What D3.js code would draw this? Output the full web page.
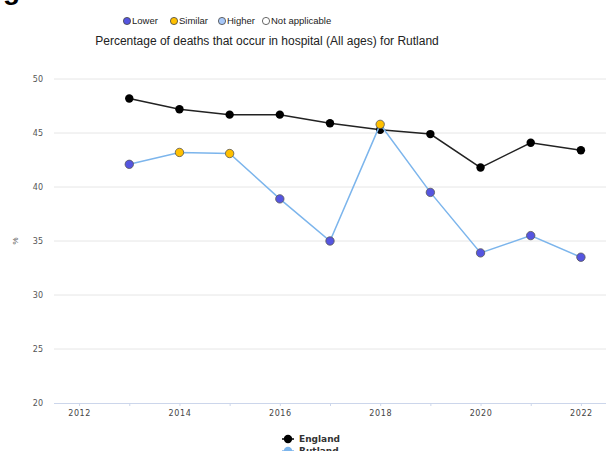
<!DOCTYPE html>
<html>
<head>
<meta charset="utf-8">
<script src="https://cdn.jsdelivr.net/npm/d3@7"></script>
<style>
  body { margin: 0; background: #fff; }
  svg { display: block; font-family: "Liberation Sans", Arial, sans-serif; }
</style>
</head>
<body>
<svg id="chart" width="612" height="451"></svg>
<script>
// data
var years = [2013, 2014, 2015, 2016, 2017, 2018, 2019, 2020, 2021, 2022];
var england = [48.2, 47.2, 46.7, 46.7, 45.9, 45.3, 44.9, 41.8, 44.1, 43.4];
var rutland = [42.1, 43.2, 43.1, 38.9, 35.0, 45.8, 39.5, 33.9, 35.5, 33.5];
var rutlandCompare = ["Lower", "Similar", "Similar", "Lower", "Lower", "Similar", "Lower", "Lower", "Lower", "Lower"];
var yTicks = [20, 25, 30, 35, 40, 45, 50];
var xTicks = [2012, 2014, 2016, 2018, 2020, 2022];
var compareKeys = ["Lower", "Similar", "Higher", "Not applicable"];
var compareColours = ["#5555e0", "#ffc000", "#a8c8f8", "#ffffff"];

var svg = d3.select("#chart");
var margin = {top: 79, right: 6, bottom: 48, left: 54};
var width = 612 - margin.left - margin.right,
    height = 451 - margin.top - margin.bottom;

var x = d3.scaleLinear().domain([2011.5, 2022.5]).range([0, width]);
var y = d3.scaleLinear().domain([20, 50]).range([height, 0]);
var z = d3.scaleOrdinal().domain(compareKeys).range(compareColours);

// cut-off heading above the chart
svg.append("text")
    .attr("x", 3).attr("y", -1)
    .style("font", "bold 28px 'Liberation Sans', Arial, sans-serif")
    .text("g");

// comparison legend at the top
var topLegend = svg.append("g").attr("transform", "translate(127,21)");
var lx = [0, 47, 95, 139];
compareKeys.forEach(function(k, i) {
  topLegend.append("circle")
      .attr("cx", lx[i]).attr("cy", 0).attr("r", 3.6)
      .style("fill", z(k)).style("stroke", "#444").style("stroke-width", 0.8);
  topLegend.append("text")
      .attr("x", lx[i] + 5).attr("y", 3.2)
      .style("font-size", "9.5px").style("fill", "#222")
      .text(k);
});

// title
svg.append("text")
    .attr("x", 267).attr("y", 45)
    .attr("text-anchor", "middle")
    .style("font-size", "12px").style("fill", "#222")
    .text("Percentage of deaths that occur in hospital (All ages) for Rutland");

var g = svg.append("g")
    .attr("transform", "translate(" + margin.left + "," + margin.top + ")");

// gridlines
g.selectAll(".grid")
  .data(yTicks.slice(1))
  .enter().append("line")
    .attr("x1", 0).attr("x2", width)
    .attr("y1", function(d) { return y(d); })
    .attr("y2", function(d) { return y(d); })
    .style("stroke", "#e6e6e6").style("stroke-width", 1);

// y axis labels
var yAxis = g.append("g")
    .call(d3.axisLeft(y).tickValues(yTicks).tickSize(0).tickPadding(11));
yAxis.select(".domain").remove();
yAxis.selectAll("text").style("font-size", "8px").style("fill", "#555")
    .style("font-family", "'DejaVu Sans', sans-serif");

g.append("text")
    .attr("transform", "translate(-36," + (height / 2) + ") rotate(-90)")
    .attr("text-anchor", "middle")
    .style("font-size", "8px").style("fill", "#555")
    .text("%");

// x axis
var xAxis = g.append("g")
    .attr("transform", "translate(0," + height + ")")
    .call(d3.axisBottom(x).tickValues(d3.range(2012, 2023)).tickSize(3).tickPadding(4)
      .tickFormat(function(d) { return xTicks.indexOf(d) >= 0 ? d : ""; }));
xAxis.select(".domain").attr("d", "M0,0.5H" + width).style("stroke", "#ccd6eb");
xAxis.selectAll(".tick line").style("stroke", "#ccd6eb");
xAxis.selectAll("text").style("font-size", "8px").style("fill", "#444")
    .style("letter-spacing", "0.6px")
    .style("font-family", "'DejaVu Sans', sans-serif");

var line = d3.line()
    .x(function(d) { return x(d[0]); })
    .y(function(d) { return y(d[1]); });

var engData = years.map(function(yr, i) { return [yr, england[i]]; });
var rutData = years.map(function(yr, i) { return [yr, rutland[i], rutlandCompare[i]]; });

g.append("path")
    .datum(engData)
    .attr("d", line)
    .style("fill", "none").style("stroke", "#222").style("stroke-width", 1.5);

g.selectAll(".eng")
  .data(engData)
  .enter().append("circle")
    .attr("cx", function(d) { return x(d[0]); })
    .attr("cy", function(d) { return y(d[1]); })
    .attr("r", 4.2)
    .style("fill", "#000");

g.append("path")
    .datum(rutData)
    .attr("d", line)
    .style("fill", "none").style("stroke", "#7cb5ec").style("stroke-width", 1.5);

g.selectAll(".rut")
  .data(rutData)
  .enter().append("circle")
    .attr("cx", function(d) { return x(d[0]); })
    .attr("cy", function(d) { return y(d[1]); })
    .attr("r", 4.2)
    .style("fill", function(d) { return z(d[2]); })
    .style("stroke", "#555").style("stroke-width", 0.8);

// series legend at the bottom
var series = [["England", "#000", "#000"], ["Rutland", "#7cb5ec", "#7cb5ec"]];
var bl = svg.append("g").attr("transform", "translate(288,439)");
series.forEach(function(s, i) {
  var row = bl.append("g").attr("transform", "translate(0," + (i * 12) + ")");
  row.append("line").attr("x1", -6).attr("x2", 6)
      .style("stroke", s[1]).style("stroke-width", 1.5);
  row.append("circle").attr("r", 4.2).style("fill", s[2]);
  row.append("text").attr("x", 11).attr("y", 3.3)
      .style("font", "bold 9px 'DejaVu Sans', sans-serif").style("fill", "#333")
      .text(s[0]);
});
</script>
</body>
</html>
